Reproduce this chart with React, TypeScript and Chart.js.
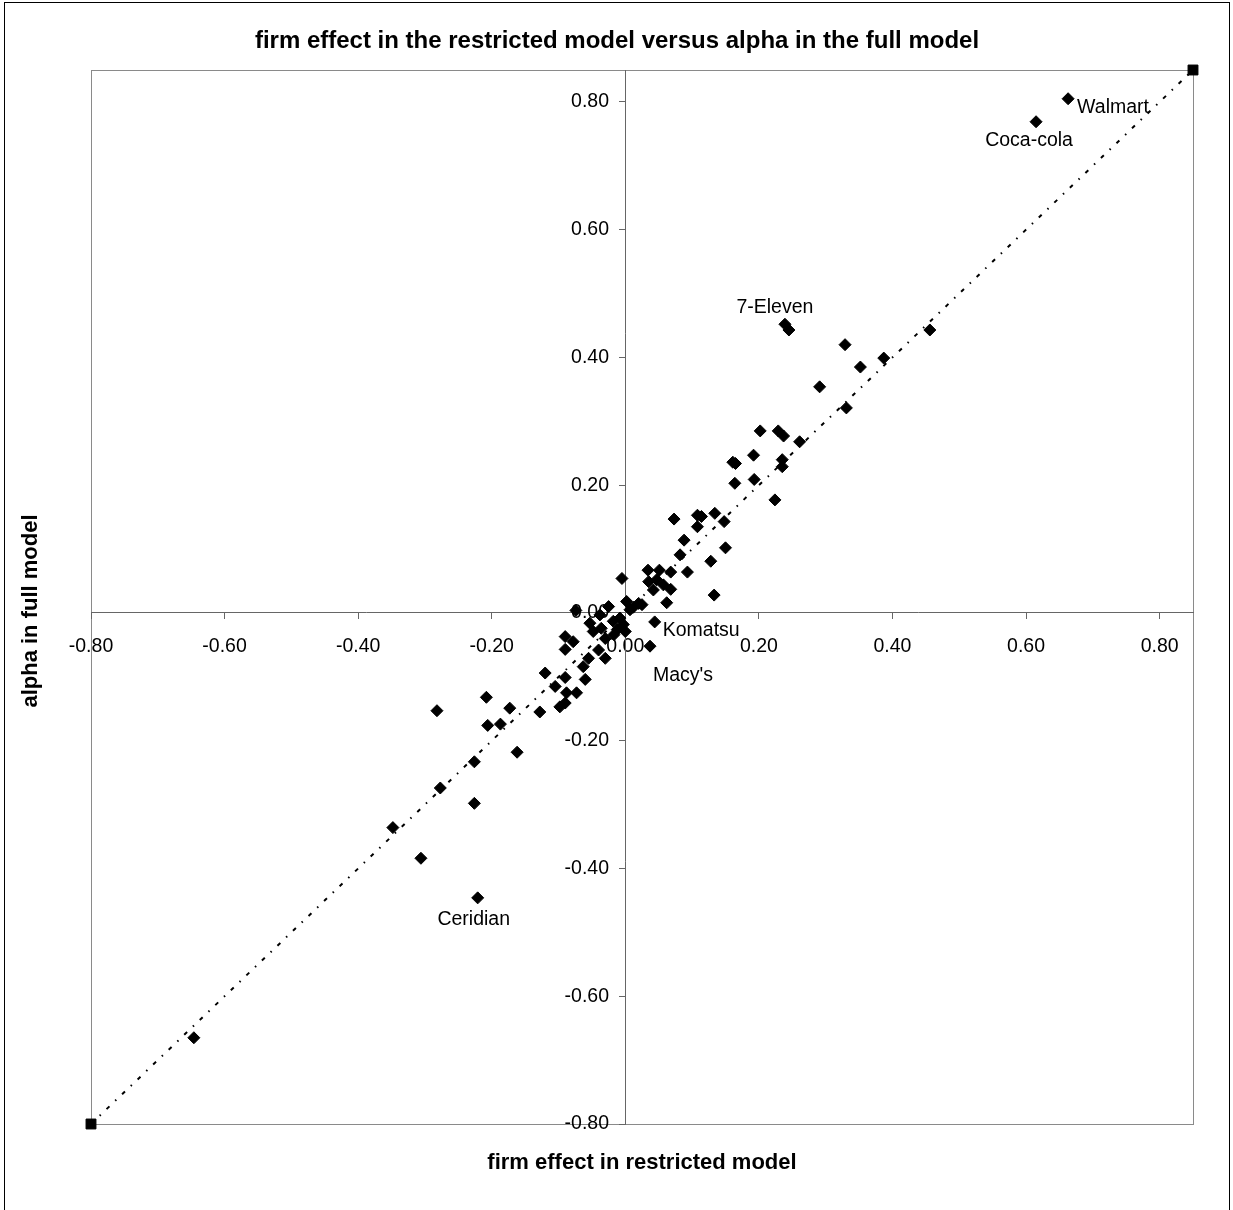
import { useEffect, useRef } from 'react';
import { Chart, registerables } from 'chart.js';

Chart.register(...registerables);

const chartTitle = 'firm effect in the restricted model versus alpha in the full model';
const xAxisTitle = 'firm effect in restricted model';
const yAxisTitle = 'alpha in full model';

const axisMin = -0.8;
const axisMax = 0.85;
const tickStep = 0.2;

// firm effect in restricted model (x)
const firmEffect = [
  0.663, 0.615, 0.239, 0.245, 0.456, 0.329, 0.387, 0.352, 0.291, 0.331,
  0.202, 0.229, 0.237, 0.261, 0.161, 0.165, 0.192, 0.235, 0.235, 0.164,
  0.193, 0.224, 0.073, 0.108, 0.114, 0.134, 0.148, 0.108, 0.088, 0.082,
  0.093, 0.128, 0.150, 0.133, 0.068, 0.034, 0.051, 0.035, 0.047, 0.057,
  0.068, 0.042, 0.062, 0.025, 0.002, -0.005, 0.007, 0.044, 0.037, -0.025,
  -0.038, -0.053, -0.036, -0.048, -0.030, -0.018, -0.008, -0.003, -0.012, -0.017,
  0.000, -0.090, -0.078, -0.090, -0.040, -0.030, -0.055, -0.063, -0.060, -0.120,
  -0.090, -0.105, -0.073, -0.088, -0.098, -0.090, -0.128, -0.173, -0.208, -0.282,
  -0.206, -0.187, -0.162, -0.226, -0.277, -0.226, -0.348, -0.306, -0.221, -0.646,
  -0.074, 0.012, 0.020,
];

// alpha in full model (y)
const alphaFull = [
  0.805, 0.769, 0.452, 0.443, 0.443, 0.420, 0.399, 0.385, 0.354, 0.321,
  0.285, 0.285, 0.277, 0.268, 0.236, 0.234, 0.247, 0.240, 0.229, 0.203,
  0.209, 0.177, 0.147, 0.153, 0.151, 0.156, 0.143, 0.135, 0.114, 0.091,
  0.064, 0.081, 0.102, 0.028, 0.064, 0.067, 0.067, 0.049, 0.052, 0.044,
  0.037, 0.036, 0.016, 0.013, 0.018, 0.054, 0.005, -0.014, -0.052, 0.010,
  -0.003, -0.016, -0.024, -0.029, -0.040, -0.013, -0.008, -0.018, -0.026, -0.034,
  -0.029, -0.037, -0.045, -0.057, -0.058, -0.071, -0.071, -0.084, -0.104, -0.094,
  -0.101, -0.115, -0.125, -0.125, -0.147, -0.141, -0.155, -0.149, -0.132, -0.153,
  -0.176, -0.174, -0.218, -0.233, -0.274, -0.298, -0.336, -0.384, -0.446, -0.665,
  0.004, 0.009, 0.015,
];

// diagonal reference line (45 degrees)
const diagonalX = [-0.8, 0.85];
const diagonalY = [-0.8, 0.85];

const labelNames = ['Walmart', 'Coca-cola', '7-Eleven', 'Komatsu', "Macy's", 'Ceridian'];
const labelPointIndex = [0, 1, 2, 47, 48, 88];

const FONT = '"Liberation Sans", Arial, sans-serif';

// label placement relative to the marked point (style only)
const labelPlacement: Record<string, { dx: number; dy: number; align: CanvasTextAlign }> = {
  Walmart: { dx: 9, dy: 9, align: 'left' },
  'Coca-cola': { dx: -7, dy: 19, align: 'center' },
  '7-Eleven': { dx: -10, dy: -17, align: 'center' },
  Komatsu: { dx: 8, dy: 9, align: 'left' },
  "Macy's": { dx: 3, dy: 29, align: 'left' },
  Ceridian: { dx: -4, dy: 22, align: 'center' },
};

const decorPlugin = {
  id: 'decor',
  beforeDraw(chart: any) {
    const { ctx, chartArea } = chart;
    ctx.save();
    ctx.fillStyle = '#ffffff';
    ctx.fillRect(0, 0, chart.width, chart.height);
    ctx.strokeStyle = '#000000';
    ctx.lineWidth = 1;
    ctx.strokeRect(4.5, 2.5, 1225, 1215);
    ctx.strokeStyle = '#8a8a8a';
    ctx.strokeRect(
      Math.round(chartArea.left) + 0.5,
      Math.round(chartArea.top) + 0.5,
      Math.round(chartArea.right - chartArea.left),
      Math.round(chartArea.bottom - chartArea.top)
    );
    ctx.restore();
  },
  afterDatasetsDraw(chart: any) {
    const { ctx, chartArea, scales } = chart;
    ctx.save();
    ctx.fillStyle = '#000000';
    ctx.textBaseline = 'middle';
    ctx.font = `19.5px ${FONT}`;
    labelNames.forEach((name, i) => {
      const idx = labelPointIndex[i];
      const px = scales.x.getPixelForValue(firmEffect[idx]);
      const py = scales.y.getPixelForValue(alphaFull[idx]);
      const p = labelPlacement[name];
      ctx.textAlign = p.align;
      ctx.fillText(name, px + p.dx, py + p.dy);
    });

    ctx.textAlign = 'center';
    ctx.font = `bold 24px ${FONT}`;
    ctx.fillText(chartTitle, 617, 41);

    ctx.font = `bold 22px ${FONT}`;
    ctx.fillText(xAxisTitle, (chartArea.left + chartArea.right) / 2, 1163);

    ctx.translate(31, (chartArea.top + chartArea.bottom) / 2 + 14);
    ctx.rotate(-Math.PI / 2);
    ctx.fillText(yAxisTitle, 0, 0);
    ctx.restore();
  },
};

const fmt = (v: number) => (Math.abs(v) < 1e-9 ? '0.00' : v.toFixed(2));

export default function App() {
  const canvasRef = useRef<HTMLCanvasElement | null>(null);

  useEffect(() => {
    if (!canvasRef.current) return;
    const chart = new Chart(canvasRef.current, {
      type: 'scatter',
      data: {
        datasets: [
          {
            label: 'firms',
            data: firmEffect.map((x, i) => ({ x, y: alphaFull[i] })),
            pointStyle: 'rectRot',
            pointRadius: 6,
            pointBackgroundColor: '#000000',
            pointBorderColor: '#000000',
            pointBorderWidth: 1,
            showLine: false,
            clip: false,
          },
          {
            label: '45 degree line',
            data: diagonalX.map((x, i) => ({ x, y: diagonalY[i] })),
            showLine: true,
            borderColor: '#000000',
            borderWidth: 2,
            borderDash: [4, 8, 1.5, 8],
            pointStyle: 'rect',
            pointRadius: 7,
            pointBackgroundColor: '#000000',
            pointBorderColor: '#000000',
            pointBorderWidth: 1,
            clip: false,
          },
        ],
      },
      options: {
        animation: false,
        responsive: false,
        maintainAspectRatio: false,
        devicePixelRatio: 1,
        layout: {
          autoPadding: false,
          padding: { left: 91, top: 70, right: 40, bottom: 86 },
        },
        plugins: {
          legend: { display: false },
          title: { display: false },
          tooltip: { enabled: false },
        },
        scales: {
          x: {
            type: 'linear',
            position: { y: 0 },
            min: axisMin,
            max: axisMax,
            afterFit: (s: any) => {
              s.height = 0;
            },
            grid: {
              drawOnChartArea: false,
              drawTicks: true,
              tickLength: 6,
              color: '#666666',
            },
            border: { display: true, color: '#666666', width: 1 },
            ticks: {
              stepSize: tickStep,
              includeBounds: false,
              autoSkip: false,
              maxRotation: 0,
              padding: 16,
              color: '#000000',
              font: { family: FONT, size: 19.5 },
              callback: (v: any) => fmt(Number(v)),
            },
          },
          y: {
            type: 'linear',
            position: { x: 0 },
            min: axisMin,
            max: axisMax,
            afterFit: (s: any) => {
              s.width = 0;
            },
            grid: {
              drawOnChartArea: false,
              drawTicks: true,
              tickLength: 6,
              color: '#666666',
            },
            border: { display: true, color: '#666666', width: 1 },
            ticks: {
              stepSize: tickStep,
              includeBounds: false,
              autoSkip: false,
              padding: 9,
              color: '#000000',
              font: { family: FONT, size: 19.5 },
              // trailing spaces keep the right-aligned labels clear of the axis line and ticks
              callback: (v: any) => fmt(Number(v)) + '   ',
            },
          },
        },
      },
      plugins: [decorPlugin],
    });
    return () => chart.destroy();
  }, []);

  return (
    <div style={{ position: 'absolute', left: 0, top: 0, width: 1233, height: 1210, background: '#fff' }}>
      <canvas ref={canvasRef} width={1233} height={1210} style={{ display: 'block', width: 1233, height: 1210 }} />
    </div>
  );
}
